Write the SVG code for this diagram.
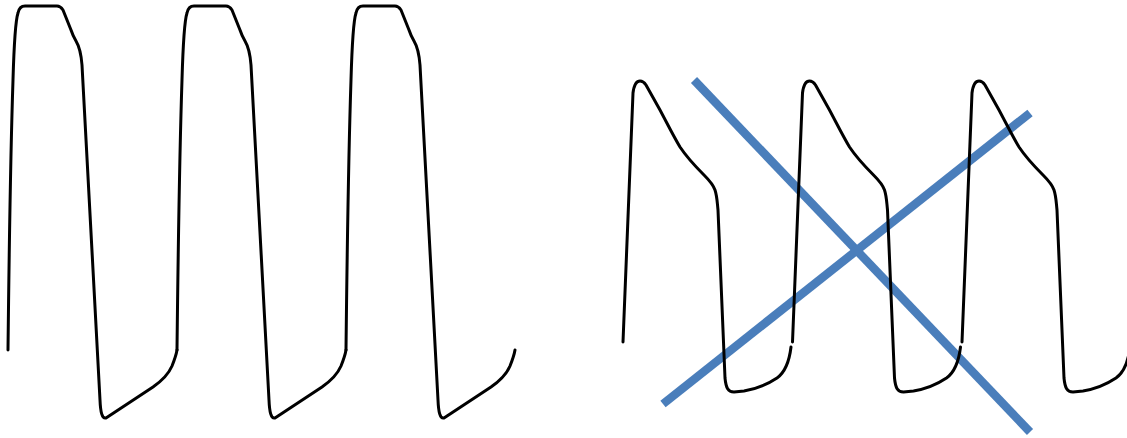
<svg xmlns="http://www.w3.org/2000/svg" xmlns:xlink="http://www.w3.org/1999/xlink" width="1127" height="438" viewBox="0 0 1127 438">
<style>
.wave{fill:none;stroke:#000;stroke-width:3;stroke-linecap:round;stroke-linejoin:round}
.cross{stroke:#4A7EBB;stroke-width:8.5;stroke-linecap:butt}
</style>
<defs>
<path id="cycleA" class="wave" d="M8,350 C9,260 11,140 13,80 C14,45 15,22 18,13 C19,8 21,6 25,6 L57,6 C60,6 61,7 63,10 L71,30 C72,33 73,36 76,41 C79,46 81,52 82,65 L100,400 C100.5,412 102,419 106,418 L153,387 C163,380 169,373 172,366 C174,361 176,356 177,350"/>
<path id="cycleB" class="wave" d="M623,342 L633,93 C634,85 636,81 640,81 C642,81 644,82 646,85 L660,110 C668,125 674,137 680,147 C686,156 694,165 704,175 C709,180 713,184 715,190 C717,196 717,200 718,210 L725,378 C726,388 728,392 734,392 L744,391 C756,389 768,384 777,378 C784,373 789,364 791,347"/>
</defs>
<g id="regular-wave">
<use xlink:href="#cycleA"/>
<use xlink:href="#cycleA" transform="translate(169,0)"/>
<use xlink:href="#cycleA" transform="translate(338,0)"/>
</g>
<g id="crossed-wave">
<g id="cross-lines">
<line class="cross" x1="694" y1="80" x2="1030" y2="432"/>
<line class="cross" x1="663" y1="404" x2="1030" y2="113"/>
</g>
<use xlink:href="#cycleB"/>
<use xlink:href="#cycleB" transform="translate(169.5,0)"/>
<use xlink:href="#cycleB" transform="translate(339,0)"/>
</g>
</svg>
